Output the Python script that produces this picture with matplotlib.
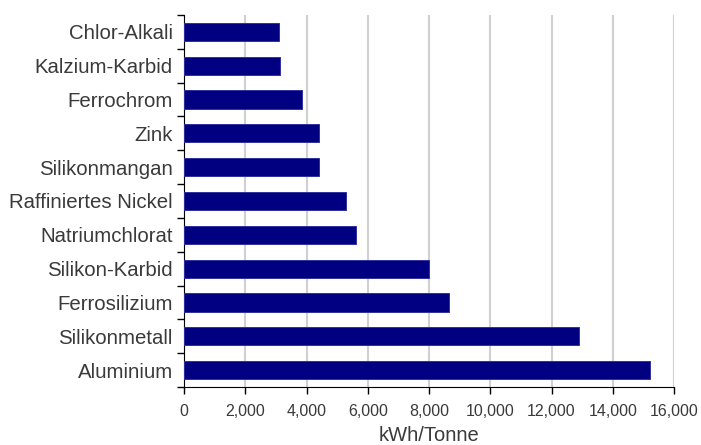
import matplotlib.pyplot as plt
from matplotlib.ticker import FuncFormatter, MultipleLocator

plt.rcParams['font.family'] = ['Liberation Sans', 'DejaVu Sans']

categories = ['Chlor-Alkali', 'Kalzium-Karbid', 'Ferrochrom', 'Zink', 'Silikonmangan',
              'Raffiniertes Nickel', 'Natriumchlorat', 'Silikon-Karbid', 'Ferrosilizium',
              'Silikonmetall', 'Aluminium']
values = [3100, 3150, 3850, 4400, 4400, 5300, 5600, 8000, 8650, 12900, 15200]

text_col = '#3a3a3a'

fig = plt.figure(figsize=(7.01, 4.45), dpi=100)
ax = fig.add_axes([184 / 701, 1 - 387 / 445, 490 / 701, 372 / 445])

pos = list(range(len(categories)))
ax.barh(pos, values, height=0.54, color='#000080', edgecolor='#3030a0', linewidth=0.7, zorder=3)

ax.set_ylim(len(categories) - 0.5, -0.5)
ax.set_xlim(0, 16000)
ax.set_yticks(pos)
ax.set_yticklabels(categories, fontsize=14.7, color=text_col)
ax.set_yticks([p - 0.5 for p in pos] + [len(categories) - 0.5], minor=True)
ax.tick_params(axis='y', which='major', length=0, pad=8)
ax.tick_params(axis='y', which='minor', length=5, width=1, direction='out')

ax.xaxis.set_major_locator(MultipleLocator(2000))
ax.xaxis.set_major_formatter(FuncFormatter(lambda v, p: f'{int(v):,}'))
ax.tick_params(axis='x', length=5, width=1, labelsize=11.5, labelcolor=text_col, pad=7)
ax.set_xlabel('kWh/Tonne', fontsize=14.5, color=text_col, labelpad=5)

ax.grid(axis='x', color='#d0d0d0', linewidth=1.5, zorder=0)
ax.spines['top'].set_visible(False)
ax.spines['right'].set_visible(False)
ax.spines['left'].set_color('black')
ax.spines['bottom'].set_color('black')

fig.savefig('out.png', dpi=100)
